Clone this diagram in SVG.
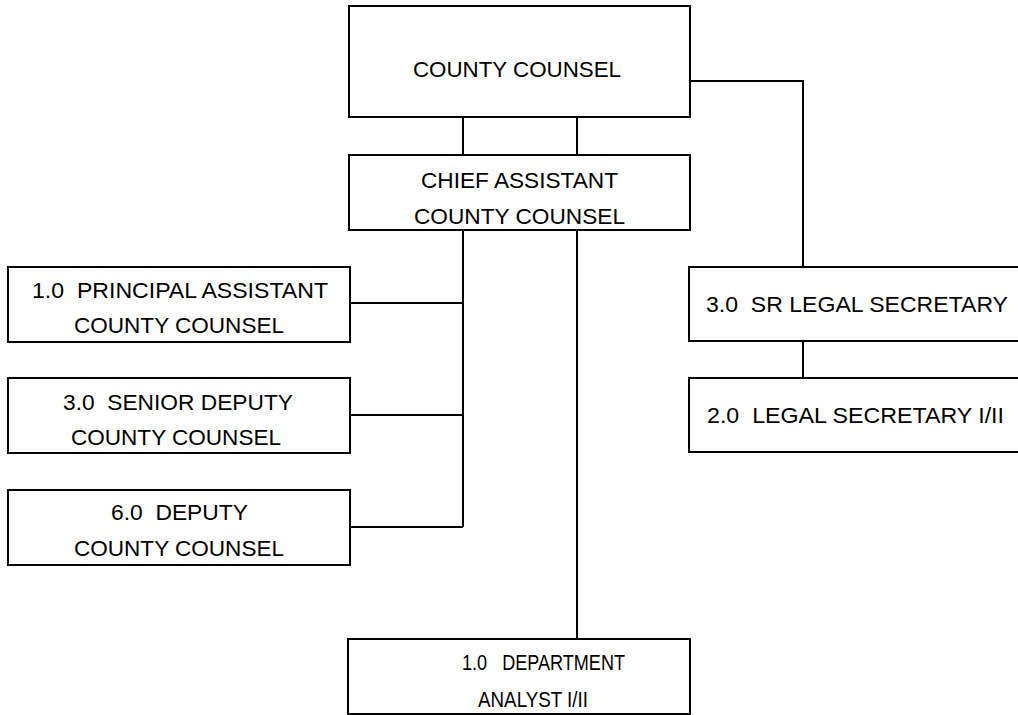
<svg xmlns="http://www.w3.org/2000/svg" width="1018" height="715" viewBox="0 0 1018 715">
<style>
.box{fill:#fff;stroke:#000;stroke-width:2}
.ln{fill:none;stroke:#000;stroke-width:2}
text{font-family:"Liberation Sans",Arial,sans-serif;font-size:22.5px;fill:#000}
</style>
<rect width="1018" height="715" fill="#fff"/>
<g id="connectors">
<path class="ln" d="M463,117V155M577,117V155"/>
<path class="ln" d="M690,81H803V267M803,341V378"/>
<path class="ln" d="M463,230V527M350,303H463M350,415H463M350,527H463"/>
<path class="ln" d="M577,230V639"/>
</g>
<g id="county-counsel">
<rect class="box" x="349" y="6" width="341" height="111"/>
<text x="413" y="77" textLength="208" lengthAdjust="spacingAndGlyphs">COUNTY COUNSEL</text>
</g>
<g id="chief-assistant">
<rect class="box" x="349" y="155" width="341" height="75"/>
<text x="421" y="188" textLength="197" lengthAdjust="spacingAndGlyphs">CHIEF ASSISTANT</text>
<text x="414" y="224" textLength="211" lengthAdjust="spacingAndGlyphs">COUNTY COUNSEL</text>
</g>
<g id="principal-assistant">
<rect class="box" x="8" y="267" width="342" height="75"/>
<text x="32" y="298" textLength="296" lengthAdjust="spacingAndGlyphs" xml:space="preserve">1.0  PRINCIPAL ASSISTANT</text>
<text x="74" y="333" textLength="210" lengthAdjust="spacingAndGlyphs">COUNTY COUNSEL</text>
</g>
<g id="senior-deputy">
<rect class="box" x="8" y="378" width="342" height="75"/>
<text x="63" y="410" textLength="230" lengthAdjust="spacingAndGlyphs" xml:space="preserve">3.0  SENIOR DEPUTY</text>
<text x="71" y="445" textLength="210" lengthAdjust="spacingAndGlyphs">COUNTY COUNSEL</text>
</g>
<g id="deputy">
<rect class="box" x="8" y="490" width="342" height="75"/>
<text x="111" y="520" textLength="137" lengthAdjust="spacingAndGlyphs" xml:space="preserve">6.0  DEPUTY</text>
<text x="74" y="556" textLength="210" lengthAdjust="spacingAndGlyphs">COUNTY COUNSEL</text>
</g>
<g id="sr-legal-secretary">
<rect class="box" x="689" y="267" width="340" height="74"/>
<text x="706" y="312" textLength="302" lengthAdjust="spacingAndGlyphs" xml:space="preserve">3.0  SR LEGAL SECRETARY</text>
</g>
<g id="legal-secretary">
<rect class="box" x="689" y="378" width="340" height="74"/>
<text x="707" y="423" textLength="297" lengthAdjust="spacingAndGlyphs" xml:space="preserve">2.0  LEGAL SECRETARY I/II</text>
</g>
<g id="department-analyst">
<rect class="box" x="348" y="639" width="342" height="75"/>
<text x="462" y="670" textLength="163" lengthAdjust="spacingAndGlyphs" xml:space="preserve">1.0   DEPARTMENT</text>
<text x="478" y="707" textLength="110" lengthAdjust="spacingAndGlyphs">ANALYST I/II</text>
</g>
</svg>
